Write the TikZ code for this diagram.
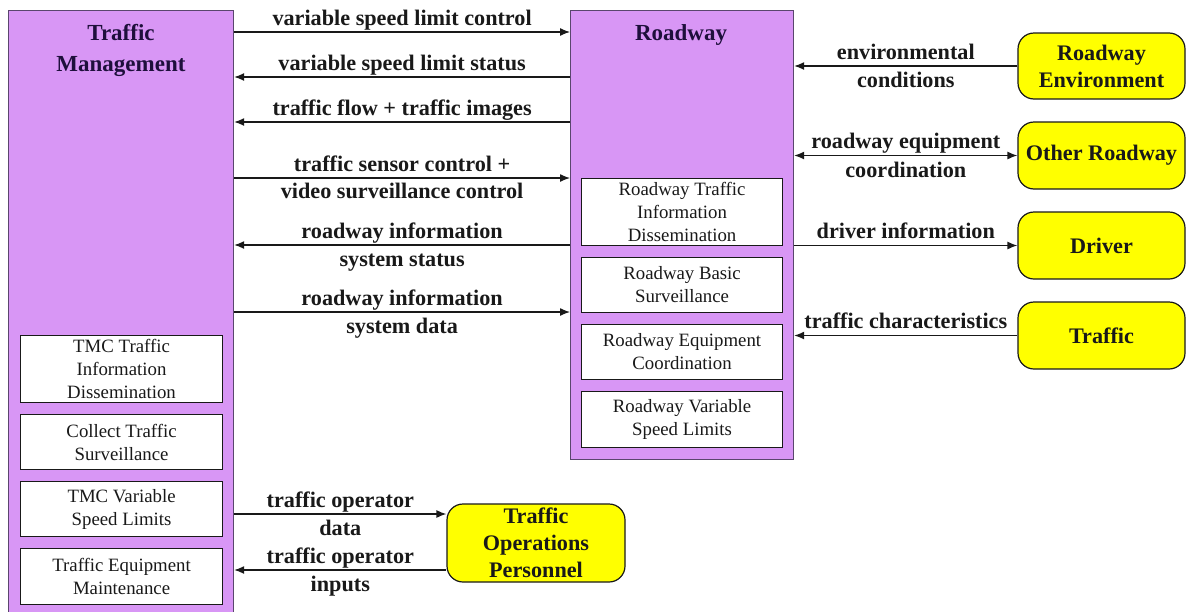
\documentclass[tikz,border=0pt]{standalone}
\usepackage{fontspec}
\setmainfont{Liberation Serif}
\usetikzlibrary{arrows.meta}
\definecolor{lav}{RGB}{216,150,245}
\definecolor{lavline}{RGB}{90,70,110}
\definecolor{yel}{RGB}{255,255,0}
\definecolor{ink}{RGB}{25,25,25}
\definecolor{navy}{RGB}{30,15,60}
\tikzset{
  bigbox/.style={draw=lavline, line width=1.2pt, fill=lav, anchor=north west, inner sep=0pt},
  title/.style={font=\fontsize{23}{31}\selectfont\bfseries, text=navy, align=center, anchor=north, inner sep=0pt},
  sub/.style={draw=ink, line width=1.1pt, fill=white, anchor=north west, inner sep=0pt, align=center,
    font=\fontsize{18.8}{23}\selectfont, text=ink},
  ext/.style={draw=ink, line width=1.2pt, fill=yel, rounded corners=16pt, align=center,
    font=\fontsize{22.2}{27}\selectfont\bfseries, text=ink, inner sep=0pt},
  arr/.style={draw=ink, line width=1.3pt, -{Latex[length=10pt,width=8pt]}},
  barr/.style={draw=ink, line width=1.3pt, {Latex[length=10pt,width=8pt]}-{Latex[length=10pt,width=8pt]}},
  lab/.style={font=\fontsize{22.2}{24}\selectfont\bfseries, text=ink, inner sep=0pt, text height=15pt, text depth=5pt},
}
\begin{document}
\begin{tikzpicture}[x=1pt,y=-1pt]
\useasboundingbox[fill=white] (0,0) rectangle (1188,611);
% big boxes
\node[bigbox, minimum width=225pt, minimum height=605pt] (tm) at (8,10) {};
\node[title] (tmt) at (121,24) {Traffic\\Management};
\node[bigbox, minimum width=223pt, minimum height=449pt] (rw) at (570,10) {};
\node[title] (rwt) at (681,24) {Roadway};
% TM subboxes
\node[sub, minimum width=202pt, minimum height=67pt] (s1) at (20,335) {TMC Traffic\\Information\\Dissemination};
\node[sub, minimum width=202pt, minimum height=55pt] (s2) at (20,414) {Collect Traffic\\Surveillance};
\node[sub, minimum width=202pt, minimum height=55pt] (s3) at (20,481) {TMC Variable\\Speed Limits};
\node[sub, minimum width=202pt, minimum height=56pt] (s4) at (20,548) {Traffic Equipment\\Maintenance};
% Roadway subboxes
\node[sub, minimum width=201pt, minimum height=67pt] (r1) at (581,178) {Roadway Traffic\\Information\\Dissemination};
\node[sub, minimum width=201pt, minimum height=55pt] (r2) at (581,257) {Roadway Basic\\Surveillance};
\node[sub, minimum width=201pt, minimum height=55pt] (r3) at (581,324) {Roadway Equipment\\Coordination};
\node[sub, minimum width=201pt, minimum height=56pt] (r4) at (581,391) {Roadway Variable\\Speed Limits};
% external
\node[ext, minimum width=167pt, minimum height=66pt] (env) at (1101.5,66) {Roadway\\Environment};
\node[ext, minimum width=167pt, minimum height=67pt] (oth) at (1101.5,155.5) {Other Roadway};
\node[ext, minimum width=167pt, minimum height=67pt] (drv) at (1101.5,245.5) {Driver};
\node[ext, minimum width=167pt, minimum height=67pt] (trf) at (1101.5,335.5) {Traffic};
\node[ext, minimum width=178pt, minimum height=78pt] (top) at (536,543) {Traffic\\Operations\\Personnel};
% TM <-> Roadway
\draw[arr] (tm.east |- 0,32) -- node[lab, above=1pt] {variable speed limit control} (rw.west |- 0,32);
\draw[arr] (rw.west |- 0,77) -- node[lab, above=1pt] {variable speed limit status} (tm.east |- 0,77);
\draw[arr] (rw.west |- 0,122) -- node[lab, above=1pt] {traffic flow + traffic images} (tm.east |- 0,122);
\draw[arr] (tm.east |- 0,178) -- node[lab, above=1pt] {traffic sensor control +} node[lab, below=5pt] {video surveillance control} (rw.west |- 0,178);
\draw[arr] (rw.west |- 0,245) -- node[lab, above=1pt] {roadway information} node[lab, below=6pt] {system status} (tm.east |- 0,245);
\draw[arr] (tm.east |- 0,312) -- node[lab, above=1pt] {roadway information} node[lab, below=6pt] {system data} (rw.west |- 0,312);
% Roadway <-> externals
\draw[arr] (env.west) -- node[lab, above=1pt] {environmental} node[lab, below=6pt] {conditions} (rw.east |- env.west);
\draw[barr] (rw.east |- oth.west) -- node[lab, above=1pt] {roadway equipment} node[lab, below=6pt] {coordination} (oth.west);
\draw[arr] (rw.east |- drv.west) -- node[lab, above=1pt] {driver information} (drv.west);
\draw[arr] (trf.west) -- node[lab, above=1pt] {traffic characteristics} (rw.east |- trf.west);
% TM <-> TOP
\draw[arr] (tm.east |- 0,514) -- node[lab, above=1pt] {traffic operator} node[lab, below=6pt] {data} (top.west |- 0,514);
\draw[arr] (top.west |- 0,570) -- node[lab, above=1pt] {traffic operator} node[lab, below=6pt] {inputs} (tm.east |- 0,570);
\end{tikzpicture}
\end{document}
